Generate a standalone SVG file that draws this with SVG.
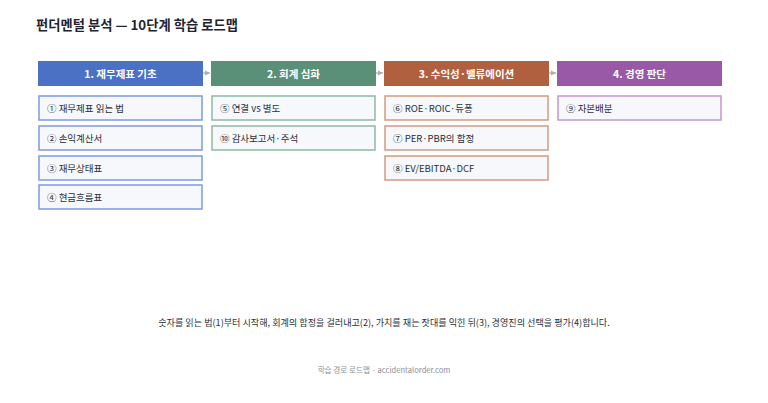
<svg xmlns="http://www.w3.org/2000/svg" width="768" height="403" viewBox="0 0 768 403">
<style>
text{font-family:"Noto Sans CJK KR","Noto Sans",sans-serif;}
.title{font-size:13.3px;font-weight:700;fill:#1f2430;}
.hd{font-size:10.5px;font-weight:700;fill:#ffffff;text-anchor:middle;}
.it{font-size:9.5px;fill:#2a2f3a;}
.sub{fill:#f7f8fc;stroke-width:1.5;}
.note{font-size:9.1px;fill:#2a2f3a;text-anchor:middle;}
.foot{font-size:7.6px;fill:#8a8f9a;text-anchor:middle;}
.c1{stroke:#7b9be0;}.c2{stroke:#8fb9a4;}.c3{stroke:#d39a80;}.c4{stroke:#c597d0;}
.conn{stroke:#a9adb8;stroke-width:1.2;fill:none;}
</style>
<defs>
<marker id="ah" markerWidth="6" markerHeight="6" refX="5" refY="3" orient="auto" markerUnits="userSpaceOnUse">
<path d="M0,0.5 L5,3 L0,5.5 Z" fill="#a9adb8"/>
</marker>
</defs>
<rect width="768" height="403" fill="#ffffff"/>
<text class="title" x="36" y="30">펀더멘털 분석 — 10단계 학습 로드맵</text>
<g id="connectors">
<line class="conn" x1="203" y1="73" x2="210" y2="73" marker-end="url(#ah)"/>
<line class="conn" x1="376" y1="73" x2="383" y2="73" marker-end="url(#ah)"/>
<line class="conn" x1="549" y1="73" x2="556" y2="73" marker-end="url(#ah)"/>
</g>
<g id="stage1">
<rect x="38" y="61" width="165" height="25" fill="#4a71c3"/>
<text class="hd" x="120.5" y="77.5">1. 재무제표 기초</text>
</g>
<g id="stage2">
<rect x="211" y="61" width="165" height="25" fill="#5a8f78"/>
<text class="hd" x="293.5" y="77.5">2. 회계 심화</text>
</g>
<g id="stage3">
<rect x="384" y="61" width="165" height="25" fill="#b0603f"/>
<text class="hd" x="466.5" y="77.5">3. 수익성·밸류에이션</text>
</g>
<g id="stage4">
<rect x="557" y="61" width="165" height="25" fill="#9959a6"/>
<text class="hd" x="639.5" y="77.5">4. 경영 판단</text>
</g>
<g id="item1"><rect class="sub c1" x="39" y="96" width="163" height="24"/><text class="it" x="47" y="111.5">① 재무제표 읽는 법</text></g>
<g id="item2"><rect class="sub c1" x="39" y="126" width="163" height="24"/><text class="it" x="47" y="141.5">② 손익계산서</text></g>
<g id="item3"><rect class="sub c1" x="39" y="156" width="163" height="24"/><text class="it" x="47" y="171.5">③ 재무상태표</text></g>
<g id="item4"><rect class="sub c1" x="39" y="185" width="163" height="24"/><text class="it" x="47" y="200.5">④ 현금흐름표</text></g>
<g id="item5"><rect class="sub c2" x="212" y="96" width="163" height="24"/><text class="it" x="220" y="111.5">⑤ 연결 vs 별도</text></g>
<g id="item10"><rect class="sub c2" x="212" y="126" width="163" height="24"/><text class="it" x="220" y="141.5">⑩ 감사보고서·주석</text></g>
<g id="item6"><rect class="sub c3" x="385" y="96" width="163" height="24"/><text class="it" x="393" y="111.5">⑥ ROE·ROIC·듀퐁</text></g>
<g id="item7"><rect class="sub c3" x="385" y="126" width="163" height="24"/><text class="it" x="393" y="141.5">⑦ PER·PBR의 함정</text></g>
<g id="item8"><rect class="sub c3" x="385" y="156" width="163" height="24"/><text class="it" x="393" y="171.5">⑧ EV/EBITDA·DCF</text></g>
<g id="item9"><rect class="sub c4" x="558" y="96" width="163" height="24"/><text class="it" x="566" y="111.5">⑨ 자본배분</text></g>
<text class="note" x="384" y="326">숫자를 읽는 법(1)부터 시작해, 회계의 함정을 걸러내고(2), 가치를 재는 잣대를 익힌 뒤(3), 경영진의 선택을 평가(4)합니다.</text>
<text class="foot" x="384" y="373">학습 경로 로드맵 · accidentalorder.com</text>
</svg>
